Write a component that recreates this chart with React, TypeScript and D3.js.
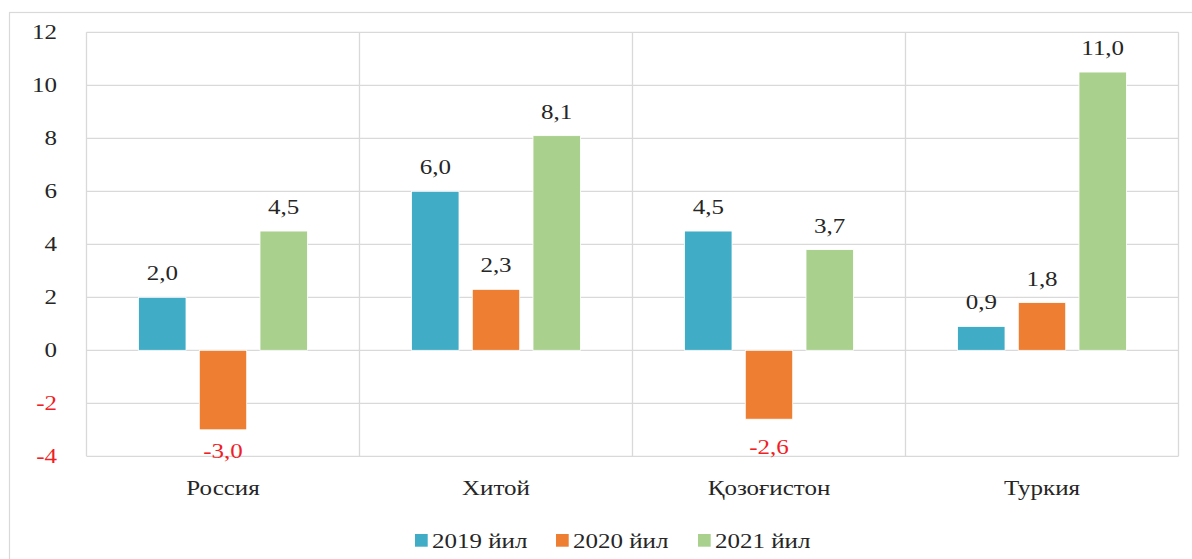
import React from "react"
import * as d3 from "d3"

const categories = ["Россия", "Хитой", "Қозоғистон", "Туркия"]
const seriesNames = ["2019 йил", "2020 йил", "2021 йил"]
const colors = ["#40acc6", "#ee7e31", "#aad08e"]

// bar heights as drawn, and the labels printed on them
const values2019 = [2.0, 6.0, 4.5, 0.9]
const values2020 = [-3.0, 2.3, -2.6, 1.8]
const values2021 = [4.5, 8.1, 3.8, 10.5]
const labels2019 = ["2,0", "6,0", "4,5", "0,9"]
const labels2020 = ["-3,0", "2,3", "-2,6", "1,8"]
const labels2021 = ["4,5", "8,1", "3,7", "11,0"]
const yTicks = [-4, -2, 0, 2, 4, 6, 8, 10, 12]

const W = 1192
const H = 559
const SERIF = "Liberation Serif"
const GRID = "#d9d9d9"
const TEXT = "#262626"
const RED = "#f01e26"
const STRETCH = 1.25 // the picture's text is widened

function Label({ x, y, anchor = "middle", fill = TEXT, dy, children }: any) {
  return (
    <text
      transform={`translate(${x},${y}) scale(${STRETCH},1)`}
      dy={dy}
      textAnchor={anchor}
      fontSize={20}
      fontFamily={SERIF}
      fill={fill}
    >
      {children}
    </text>
  )
}

export default function App() {
  const x = d3.scaleBand<string>().domain(categories).range([86.5, 1178.5])
  const xSub = d3
    .scaleBand<string>()
    .domain(seriesNames)
    .range([0, x.bandwidth()])
    .paddingInner(0.219)
    .paddingOuter(0.858)
  const y = d3.scaleLinear().domain([-4, 12]).range([456.3, 32.3])

  const values = [values2019, values2020, values2021]
  const labels = [labels2019, labels2020, labels2021]

  const bars: any[] = []
  categories.forEach((c, ci) => {
    seriesNames.forEach((s, si) => {
      const v = values[si][ci]
      const bx = x(c)! + xSub(s)!
      const top = y(Math.max(0, v))
      const bottom = y(Math.min(0, v))
      const labelY = v >= 0 ? top - 17 : Math.min(bottom + 35, 458)
      bars.push(
        <g key={c + s}>
          <rect
            x={bx}
            y={top}
            width={xSub.bandwidth()}
            height={bottom - top}
            fill={colors[si]}
            stroke="#fff"
            strokeWidth={0.8}
          />
          <Label x={bx + xSub.bandwidth() / 2} y={labelY} fill={v < 0 ? RED : TEXT}>
            {labels[si][ci]}
          </Label>
        </g>
      )
    })
  })

  const legendX = [415, 556, 698]

  return (
    <div style={{ position: "absolute", left: 0, top: 0, width: W, height: H, background: "#fff" }}>
      <svg width={W} height={H} style={{ display: "block" }}>
        <rect x={9.5} y={12.5} width={1300} height={700} fill="none" stroke={GRID} strokeWidth={1.2} />

        {yTicks.map((t) => (
          <g key={t}>
            <line x1={86.5} x2={1178.5} y1={y(t)} y2={y(t)} stroke={GRID} strokeWidth={1.3} />
            <Label x={57} y={y(t)} dy="0.33em" anchor="end" fill={t < 0 ? RED : TEXT}>
              {t}
            </Label>
          </g>
        ))}
        {[...categories.map((c) => x(c)!), x.range()[1]].map((gx, i) => (
          <line key={i} x1={gx} x2={gx} y1={y(12)} y2={y(-4)} stroke={GRID} strokeWidth={1.3} />
        ))}

        {bars}

        {categories.map((c) => (
          <Label key={c} x={x(c)! + x.bandwidth() / 2} y={495}>
            {c}
          </Label>
        ))}

        {seriesNames.map((s, i) => (
          <g key={s}>
            <rect x={legendX[i]} y={534} width={12.7} height={12.7} fill={colors[i]} />
            <Label x={legendX[i] + 17} y={548} anchor="start">
              {s}
            </Label>
          </g>
        ))}
      </svg>
    </div>
  )
}
